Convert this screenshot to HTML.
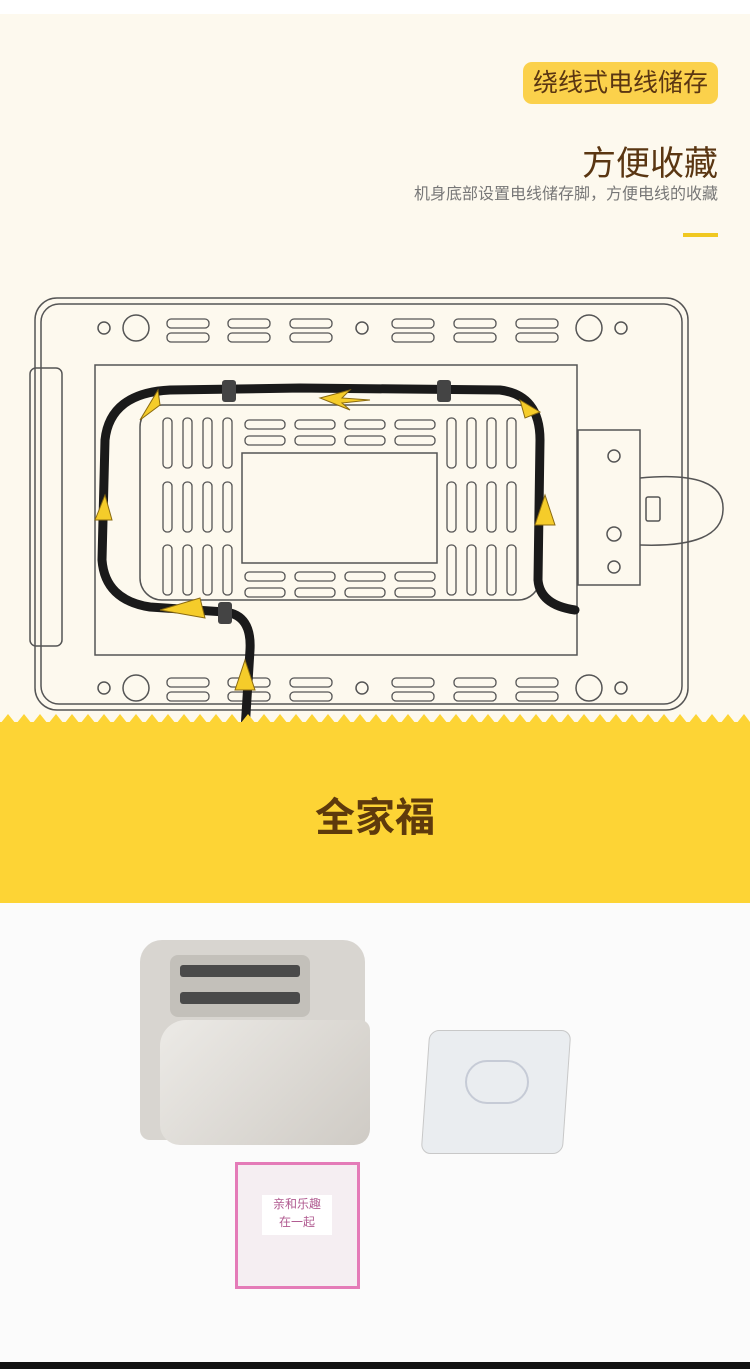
<!DOCTYPE html><html><head><meta charset="utf-8"><style>
body{margin:0;width:750px;height:1369px;overflow:hidden;background:#fdf9ee;font-family:"Liberation Sans","Noto Sans CJK SC",sans-serif;position:relative}
.a{position:absolute}
</style></head><body>
<div class="a" style="left:0;top:0;width:750px;height:14px;background:#fff"></div>
<div class="a" style="left:523px;top:62px;width:195px;height:42px;background:#fbd14b;border-radius:9px;color:#5a3612;font-size:25px;line-height:42px;text-align:center">绕线式电线储存</div>
<div class="a" style="right:32px;top:136px;font-size:34px;color:#5a3612">方便收藏</div>
<div class="a" style="right:32px;top:180px;font-size:16px;color:#777">机身底部设置电线储存脚，方便电线的收藏</div>
<div class="a" style="left:683px;top:233px;width:35px;height:4px;background:#f0c820"></div>
<svg class="a" style="left:0;top:0" width="750" height="1369">
<g fill="none" stroke="#555" stroke-width="1.5">
<rect x="35" y="298" width="653" height="412" rx="22"/>
<rect x="41" y="304" width="641" height="400" rx="18"/>
<rect x="30" y="368" width="32" height="278" rx="6"/>
<rect x="95" y="365" width="482" height="290"/>
<rect x="578" y="430" width="62" height="155"/>
<path d="M640 478 Q725 470 723 510 Q722 548 640 545"/>
<rect x="140" y="405" width="400" height="195" rx="22"/>
<rect x="242" y="453" width="195" height="110"/>
<circle cx="136" cy="328" r="13"/><circle cx="589" cy="328" r="13"/><circle cx="136" cy="688" r="13"/><circle cx="589" cy="688" r="13"/>
<circle cx="104" cy="328" r="6"/><circle cx="362" cy="328" r="6"/><circle cx="621" cy="328" r="6"/>
<circle cx="104" cy="688" r="6"/><circle cx="362" cy="688" r="6"/><circle cx="621" cy="688" r="6"/>
<circle cx="614" cy="456" r="6"/><circle cx="614" cy="534" r="7"/><circle cx="614" cy="567" r="6"/>
<rect x="646" y="497" width="14" height="24" rx="2"/>
</g>
<g fill="none" stroke="#555" stroke-width="1.3">
<rect x="167" y="319" width="42" height="9" rx="4"/><rect x="167" y="333" width="42" height="9" rx="4"/>
<rect x="228" y="319" width="42" height="9" rx="4"/><rect x="228" y="333" width="42" height="9" rx="4"/>
<rect x="290" y="319" width="42" height="9" rx="4"/><rect x="290" y="333" width="42" height="9" rx="4"/>
<rect x="392" y="319" width="42" height="9" rx="4"/><rect x="392" y="333" width="42" height="9" rx="4"/>
<rect x="454" y="319" width="42" height="9" rx="4"/><rect x="454" y="333" width="42" height="9" rx="4"/>
<rect x="516" y="319" width="42" height="9" rx="4"/><rect x="516" y="333" width="42" height="9" rx="4"/>
<rect x="167" y="678" width="42" height="9" rx="4"/><rect x="167" y="692" width="42" height="9" rx="4"/>
<rect x="228" y="678" width="42" height="9" rx="4"/><rect x="228" y="692" width="42" height="9" rx="4"/>
<rect x="290" y="678" width="42" height="9" rx="4"/><rect x="290" y="692" width="42" height="9" rx="4"/>
<rect x="392" y="678" width="42" height="9" rx="4"/><rect x="392" y="692" width="42" height="9" rx="4"/>
<rect x="454" y="678" width="42" height="9" rx="4"/><rect x="454" y="692" width="42" height="9" rx="4"/>
<rect x="516" y="678" width="42" height="9" rx="4"/><rect x="516" y="692" width="42" height="9" rx="4"/>
<rect x="163" y="418" width="9" height="50" rx="4"/><rect x="183" y="418" width="9" height="50" rx="4"/><rect x="203" y="418" width="9" height="50" rx="4"/><rect x="223" y="418" width="9" height="50" rx="4"/>
<rect x="163" y="482" width="9" height="50" rx="4"/><rect x="183" y="482" width="9" height="50" rx="4"/><rect x="203" y="482" width="9" height="50" rx="4"/><rect x="223" y="482" width="9" height="50" rx="4"/>
<rect x="163" y="545" width="9" height="50" rx="4"/><rect x="183" y="545" width="9" height="50" rx="4"/><rect x="203" y="545" width="9" height="50" rx="4"/><rect x="223" y="545" width="9" height="50" rx="4"/>
<rect x="447" y="418" width="9" height="50" rx="4"/><rect x="467" y="418" width="9" height="50" rx="4"/><rect x="487" y="418" width="9" height="50" rx="4"/><rect x="507" y="418" width="9" height="50" rx="4"/>
<rect x="447" y="482" width="9" height="50" rx="4"/><rect x="467" y="482" width="9" height="50" rx="4"/><rect x="487" y="482" width="9" height="50" rx="4"/><rect x="507" y="482" width="9" height="50" rx="4"/>
<rect x="447" y="545" width="9" height="50" rx="4"/><rect x="467" y="545" width="9" height="50" rx="4"/><rect x="487" y="545" width="9" height="50" rx="4"/><rect x="507" y="545" width="9" height="50" rx="4"/>
<rect x="245" y="420" width="40" height="9" rx="4"/><rect x="295" y="420" width="40" height="9" rx="4"/><rect x="345" y="420" width="40" height="9" rx="4"/><rect x="395" y="420" width="40" height="9" rx="4"/>
<rect x="245" y="436" width="40" height="9" rx="4"/><rect x="295" y="436" width="40" height="9" rx="4"/><rect x="345" y="436" width="40" height="9" rx="4"/><rect x="395" y="436" width="40" height="9" rx="4"/>
<rect x="245" y="572" width="40" height="9" rx="4"/><rect x="295" y="572" width="40" height="9" rx="4"/><rect x="345" y="572" width="40" height="9" rx="4"/><rect x="395" y="572" width="40" height="9" rx="4"/>
<rect x="245" y="588" width="40" height="9" rx="4"/><rect x="295" y="588" width="40" height="9" rx="4"/><rect x="345" y="588" width="40" height="9" rx="4"/><rect x="395" y="588" width="40" height="9" rx="4"/>
</g>
<path d="M245 730 L250 650 Q252 615 225 612 L150 607 Q105 600 102 560 L105 440 Q110 393 170 390 L300 388 L500 390 Q540 395 540 440 L538 580 Q540 605 575 610" fill="none" stroke="#1a1a1a" stroke-width="9" stroke-linecap="round"/>
<g fill="#444"><rect x="222" y="380" width="14" height="22" rx="3"/><rect x="437" y="380" width="14" height="22" rx="3"/><rect x="218" y="602" width="14" height="22" rx="3"/></g>
<g fill="#f5cc2a" stroke="#8a6a10" stroke-width="1">
<path d="M320 398 L350 390 L342 398 L370 400 L342 403 L350 410Z"/><path d="M140 420 L158 390 L160 405Z"/><path d="M520 400 L540 412 L525 418Z"/><path d="M535 525 L545 495 L555 525Z"/><path d="M95 520 L105 495 L112 520Z"/><path d="M160 610 L200 598 L205 618Z"/><path d="M235 690 L245 660 L255 690Z"/>
</g>
</svg>
<div class="a" style="left:0;top:722px;width:750px;height:181px;background:#fdd435"></div>
<svg class="a" style="left:0;top:712px" width="750" height="16"><path d="M0 16 L0 12 L8 2 L16 12 L24 2 L32 12 L40 2 L48 12 L56 2 L64 12 L72 2 L80 12 L88 2 L96 12 L104 2 L112 12 L120 2 L128 12 L136 2 L144 12 L152 2 L160 12 L168 2 L176 12 L184 2 L192 12 L200 2 L208 12 L216 2 L224 12 L232 2 L240 12 L248 2 L256 12 L264 2 L272 12 L280 2 L288 12 L296 2 L304 12 L312 2 L320 12 L328 2 L336 12 L344 2 L352 12 L360 2 L368 12 L376 2 L384 12 L392 2 L400 12 L408 2 L416 12 L424 2 L432 12 L440 2 L448 12 L456 2 L464 12 L472 2 L480 12 L488 2 L496 12 L504 2 L512 12 L520 2 L528 12 L536 2 L544 12 L552 2 L560 12 L568 2 L576 12 L584 2 L592 12 L600 2 L608 12 L616 2 L624 12 L632 2 L640 12 L648 2 L656 12 L664 2 L672 12 L680 2 L688 12 L696 2 L704 12 L712 2 L720 12 L728 2 L736 12 L744 2 L750 10 L750 16Z" fill="#fdd435"/></svg>
<div class="a" style="left:0;top:785px;width:750px;text-align:center;font-size:40px;font-weight:bold;color:#5e3a0c">全家福</div>
<div class="a" style="left:0;top:903px;width:750px;height:459px;background:#fbfbfb"></div>
<div class="a" style="left:0;top:1362px;width:750px;height:7px;background:#111"></div>
<div class="a" style="left:140px;top:940px;width:225px;height:200px;background:#d8d5d0;border-radius:22px 22px 10px 10px"></div>
<div class="a" style="left:170px;top:955px;width:140px;height:62px;background:#c3c0ba;border-radius:8px"></div>
<div class="a" style="left:180px;top:965px;width:120px;height:12px;background:#4a4a4a;border-radius:3px"></div>
<div class="a" style="left:180px;top:992px;width:120px;height:12px;background:#4a4a4a;border-radius:3px"></div>
<div class="a" style="left:160px;top:1020px;width:210px;height:125px;background:linear-gradient(135deg,#eceae6,#cfcbc5);border-radius:26px 10px 16px 20px"></div>
<div class="a" style="left:425px;top:1030px;width:140px;height:122px;background:#eaedf0;border:1px solid #c8c8c8;border-radius:10px;transform:skewX(-4deg)"></div>
<div class="a" style="left:465px;top:1060px;width:60px;height:40px;border:2px solid #c6cbd6;border-radius:30px"></div>
<div class="a" style="left:235px;top:1162px;width:125px;height:127px;background:#f5eef2;border:3px solid #e47bb8;box-sizing:border-box"></div>
<div class="a" style="left:262px;top:1195px;width:70px;height:40px;background:#fff;color:#b05a90;font-size:12px;text-align:center;line-height:18px">亲和乐趣<br>在一起</div>
</body></html>
